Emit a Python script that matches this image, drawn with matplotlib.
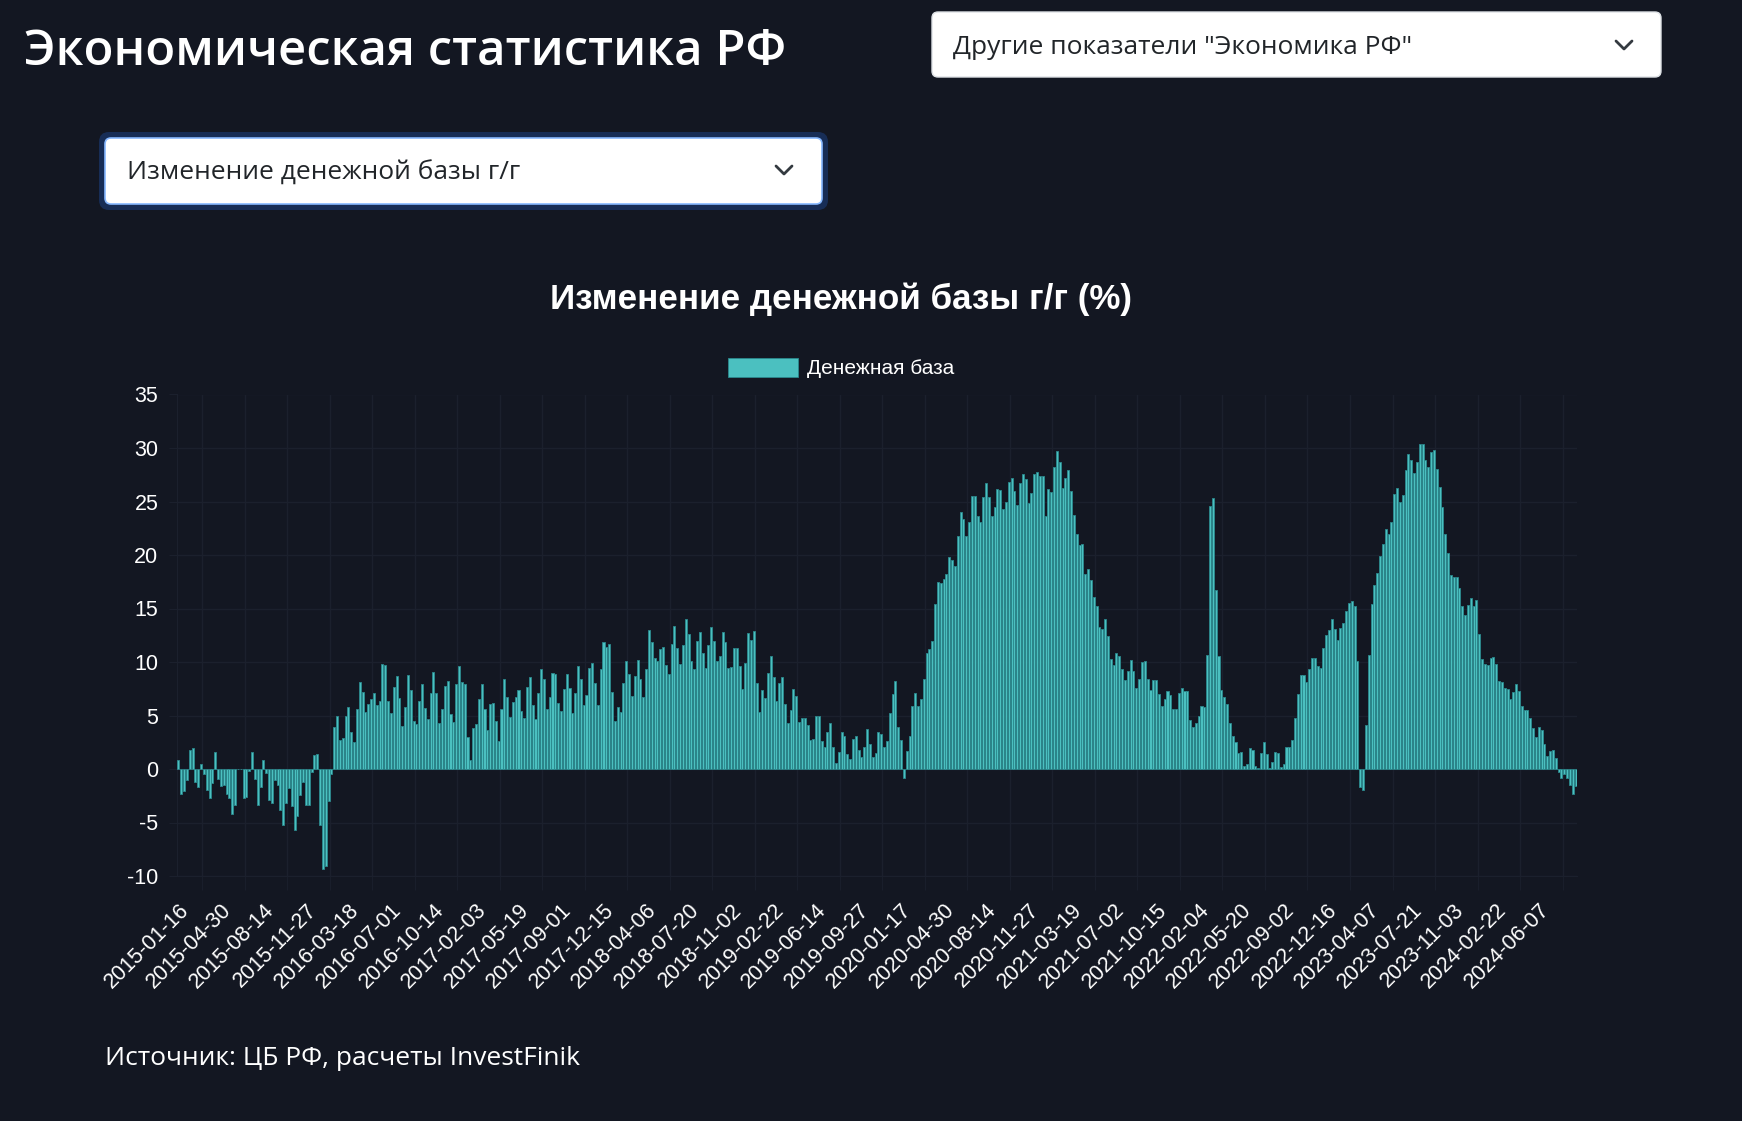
import numpy as np
import matplotlib
matplotlib.use('Agg')
import matplotlib.pyplot as plt
from matplotlib.patches import FancyBboxPatch

plt.rcParams['axes.unicode_minus'] = False

W, H = 1742, 1121
BG = '#131722'
TEAL = '#4bc0c0'
TEAL_EDGE = '#2b8a8e'
GRID = '#1b202d'

# Weekly y/y change of the monetary base, %
mb_2015 = [0.8, -2.3, -2.1, -1.0, 1.8, 2.0, -1.2, -1.7, 0.5, -0.5,
           -2.0, -2.7, -1.3, 1.6, -0.9, -1.6, -1.5, -2.3, -2.7, -4.2,
           -3.4, 0.0, 0.0, -2.7, -2.6, -0.2, 1.6, -0.9, -3.4, -1.7,
           0.8, -0.4, -2.9, -3.2, -1.0, -1.5, -3.8, -5.2, -3.2, -1.8,
           -3.5, -5.7, -4.4, -2.4, -1.2, -3.4, -3.4, -0.3, 1.3, 1.4,
           -5.2, -9.3, -9.1, -3.0, -0.5, 3.9, 5.0, 2.7, 2.9, 5.0,
           5.8, 3.5, 2.5, 5.6, 8.1, 7.2, 5.3, 6.1, 6.5, 7.1,
           6.0, 6.4, 9.8, 9.7, 6.4, 5.2, 7.7, 8.7, 6.6]
mb_2016 = [4.0, 5.8, 8.75, 7.4, 4.5, 4.2, 6.4, 7.9, 5.7, 4.7,
           7.1, 9.1, 7.1, 4.3, 5.6, 7.8, 8.2, 5.1, 4.4, 7.9,
           9.6, 8.1, 7.9, 3.0, 0.85, 3.8, 4.2, 6.5, 7.9, 5.6,
           3.6, 6.1, 6.2, 4.5, 2.6, 5.6, 8.4, 6.7, 4.9, 6.3,
           6.7, 7.4, 5.4, 4.8, 7.7, 8.6, 6.0, 4.7, 7.1, 9.3,
           8.4, 5.6, 6.7, 9.0, 8.9, 6.2, 5.4, 7.5, 8.9, 7.6,
           5.2, 7.1, 9.6, 8.4, 6.0, 6.9, 9.4, 9.9, 8.0, 6.0,
           9.3, 11.9, 11.4, 11.7, 7.2, 4.5, 5.8]
mb_2018 = [5.3, 8.0, 10.1, 8.9, 6.8, 8.7, 10.2, 8.4, 6.7, 9.3,
           13.0, 11.9, 10.4, 10.1, 11.2, 11.4, 9.7, 8.9, 11.7, 13.4,
           11.3, 9.8, 11.6, 14.0, 12.6, 10.1, 9.3, 12.0, 12.8, 10.8,
           9.4, 11.6, 13.3, 12.0, 10.1, 10.6, 12.8, 11.9, 9.4, 9.5,
           11.3, 11.3, 9.6, 7.5, 9.9, 12.7, 12.1, 12.9, 8.0, 5.3,
           7.4, 6.6, 9.0, 10.6, 8.6, 6.4, 8.0, 8.6, 6.1, 4.3,
           5.5, 7.5, 6.8, 4.4, 4.8, 4.8, 4.1, 2.7, 2.8, 5.0,
           5.0, 2.6, 2.1, 3.5, 4.3, 2.1, 0.6, 1.6]
mb_2019 = [3.5, 3.1, 1.4, 0.9, 2.8, 3.1, 1.8, 1.1, 2.1, 3.7,
           2.3, 1.1, 1.5, 3.5, 3.3, 2.1, 2.6, 5.2, 7.0, 8.2,
           3.9, 2.7, -0.8, 1.7, 3.1, 5.9, 7.1, 5.9, 6.5, 8.4,
           10.8, 11.2, 12.0, 15.4, 17.5, 17.4, 17.8, 18.2, 19.8, 19.5,
           19.0, 21.8, 24.0, 23.4, 21.8, 23.1, 25.5, 25.5, 23.6, 23.1,
           25.4, 26.7, 25.4, 23.6, 24.5, 26.2, 26.1, 24.3, 25.0, 26.8,
           27.2, 26.0, 24.7, 26.7, 27.6, 27.1, 24.9, 25.8, 27.6, 27.8,
           27.4, 27.4, 23.6, 26.2, 25.9, 28.2, 29.7, 28.7]
mb_2021 = [26.3, 27.2, 27.9, 26.0, 23.7, 22.0, 20.9, 21.0, 18.2, 18.7,
           17.7, 16.1, 15.2, 13.3, 13.1, 14.0, 12.4, 10.3, 9.7, 10.8,
           10.6, 9.3, 8.3, 9.2, 10.2, 9.2, 7.6, 8.4, 10.0, 10.1,
           8.4, 7.4, 8.3, 8.3, 7.0, 5.9, 6.5, 7.3, 6.9, 5.6,
           5.6, 7.1, 7.6, 7.3, 7.3, 4.6, 3.9, 4.3, 5.0, 5.9,
           5.8, 10.7, 24.6, 25.3, 16.7, 10.6, 7.4, 6.7, 6.1, 4.3,
           3.1, 2.5, 1.5, 1.6, 0.3, 0.5, 2.0, 1.8, 0.3, 0.1,
           1.5, 2.5, 1.4, 0.05, 0.7, 1.6, 1.5]
mb_2022 = [0.2, 0.5, 2.1, 2.1, 2.7, 4.8, 7.0, 8.8, 8.75, 8.1,
           9.3, 10.4, 10.4, 9.6, 9.4, 11.3, 12.5, 13.0, 14.0, 13.1,
           12.1, 13.2, 13.6, 14.8, 15.5, 15.7, 15.2, 10.1, -1.7, -2.0,
           4.1, 10.7, 15.4, 17.2, 18.3, 19.9, 21.0, 22.4, 22.0, 23.1,
           25.7, 26.3, 25.0, 25.6, 27.9, 29.4, 28.9, 27.7, 28.7, 30.4,
           30.4, 28.9, 28.2, 29.6, 29.8, 28.0, 26.4, 24.5, 22.0, 20.2,
           18.1, 17.9, 17.9, 16.9, 15.2, 14.4, 15.3, 16.0, 15.2, 15.8,
           12.6, 10.3, 9.8, 9.7, 10.4, 10.5, 9.8, 8.2]
mb_2024 = [8.1, 7.6, 7.5, 6.5, 7.2, 7.9, 7.3, 5.9, 5.5, 5.5,
           4.8, 3.8, 3.0, 3.9, 3.6, 2.3, 1.2, 1.7, 1.8, 1.0,
           -0.3, -0.8, -0.5, -0.8, -1.5, -2.3, -1.6]

values = mb_2015 + mb_2016 + mb_2018 + mb_2019 + mb_2021 + mb_2022 + mb_2024

# every 15th date is shown on the axis
tick_labels = ['2015-01-16', '2015-04-30', '2015-08-14', '2015-11-27', '2016-03-18',
               '2016-07-01', '2016-10-14', '2017-02-03', '2017-05-19', '2017-09-01',
               '2017-12-15', '2018-04-06', '2018-07-20', '2018-11-02', '2019-02-22',
               '2019-06-14', '2019-09-27', '2020-01-17', '2020-04-30', '2020-08-14',
               '2020-11-27', '2021-03-19', '2021-07-02', '2021-10-15', '2022-02-04',
               '2022-05-20', '2022-09-02', '2022-12-16', '2023-04-07', '2023-07-21',
               '2023-11-03', '2024-02-22', '2024-06-07']

fig = plt.figure(figsize=(W / 100, H / 100), dpi=100, facecolor=BG)

# ── page elements (pixel coordinates) ──
page = fig.add_axes([0, 0, 1, 1])
page.set_xlim(0, W); page.set_ylim(H, 0); page.axis('off')

page.text(24, 65, 'Экономическая статистика РФ', color='white', fontsize=35.3,
          fontfamily='Open Sans', fontweight='semibold', va='baseline')

page.add_patch(FancyBboxPatch((932, 12), 729, 65, boxstyle='round,pad=0,rounding_size=6',
                              fc='white', ec='#dee2e6', lw=1))
page.text(953, 54, 'Другие показатели "Экономика РФ"', color='#212529', fontsize=19,
          fontfamily='Open Sans', va='baseline')
page.plot([1616, 1624, 1632], [41, 49, 41], color='#343a40', lw=2, solid_capstyle='round')

page.add_patch(FancyBboxPatch((99, 132), 729, 78, boxstyle='round,pad=0,rounding_size=10',
                              fc='#172d56', ec='none'))
page.add_patch(FancyBboxPatch((105, 138), 717, 66, boxstyle='round,pad=0,rounding_size=6',
                              fc='white', ec='#86b7fe', lw=1.2))
page.text(127, 180, 'Изменение денежной базы г/г', color='#212529', fontsize=19,
          fontfamily='Open Sans', va='baseline')
page.plot([776, 784, 792], [166, 174, 166], color='#343a40', lw=2, solid_capstyle='round')

page.text(841, 299, 'Изменение денежной базы г/г (%)', color='white', fontsize=25.2,
          fontfamily='Liberation Sans', fontweight='bold', ha='center', va='center')

page.text(105, 1065, 'Источник: ЦБ РФ, расчеты InvestFinik', color='white', fontsize=19,
          fontfamily='Open Sans', va='baseline')

# ── chart ──
ax = fig.add_axes([177 / W, 1 - 876 / H, 1400 / W, (876 - 394.5) / H])
ax.set_facecolor(BG)
x = np.arange(len(values))
bars = ax.bar(x, values, width=0.72, color=TEAL, edgecolor=TEAL_EDGE, linewidth=0.6,
              label='Денежная база', zorder=3)
ax.set_xlim(-0.5, len(values) - 0.5)
ax.set_ylim(-10, 35)
ax.set_yticks(range(-10, 36, 5))

ax.set_xticks(x[::15])
ax.set_xticklabels(tick_labels, rotation=45, ha='right', va='top', rotation_mode='anchor',
                   fontsize=15.5, fontfamily='Liberation Sans', color='white')
ax.set_xticks(x[8::15] + 0.4, minor=True)
for lab in ax.get_yticklabels():
    lab.set_fontfamily('Liberation Sans')
ax.tick_params(axis='y', colors='white', labelsize=15.5, length=6, pad=7.5, color=GRID)
ax.tick_params(axis='x', which='major', length=0, pad=17)
ax.tick_params(axis='x', which='minor', length=10, color=GRID)
ax.grid(True, axis='y', color=GRID, lw=1, zorder=0)
ax.grid(True, axis='x', which='minor', color=GRID, lw=1, zorder=0)
for s in ['top', 'right']:
    ax.spines[s].set_visible(False)
for s in ['left', 'bottom']:
    ax.spines[s].set_color(GRID)

fig.legend(handles=[bars], loc='center', bbox_to_anchor=(841 / W, 1 - 368 / H),
           frameon=False, labelcolor='white', handlelength=3.4,
           handleheight=1.05, handletextpad=0.42, borderpad=0,
           prop={'family': 'Liberation Sans', 'size': 15})

plt.savefig('out.png', dpi=100, facecolor=BG)
